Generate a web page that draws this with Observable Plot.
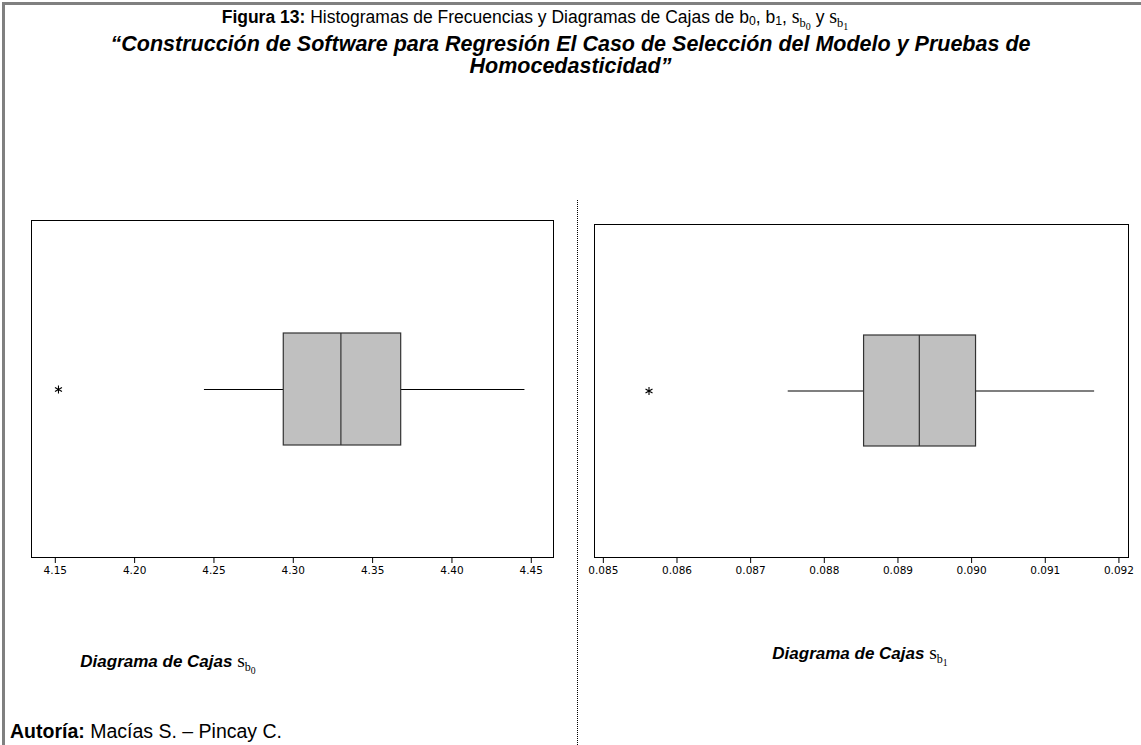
<!DOCTYPE html>
<html>
<head>
<meta charset="utf-8">
<script src="https://cdn.jsdelivr.net/npm/d3@7"></script>
<script src="https://cdn.jsdelivr.net/npm/@observablehq/plot@0.6"></script>
<style>
  body { margin: 0; background: #fff; }
  #fig { position: relative; width: 1141px; height: 745px; overflow: hidden; background: #fff;
         font-family: "Liberation Sans", Arial, sans-serif; color: #000; }
  #border { position: absolute; left: 2px; top: 2px; right: -20px; bottom: -20px;
            border-top: 3px solid #808080; border-left: 3px solid #808080; }
  .title { position: absolute; text-align: center; white-space: nowrap; }
  #t1 { top: 5px; left: 0; width: 1070px; font-size: 17.5px; }
  #t2 { top: 33px; left: 0; width: 1141px; font-size: 21.5px; font-weight: bold; font-style: italic; line-height: 22px; }
  .math { font-family: "Liberation Serif", "Times New Roman", serif; font-style: normal; font-weight: normal; font-size: 1.15em; }
  .math sub { font-size: 0.62em; vertical-align: -0.35em; }
  .math sub sub { font-size: 0.8em; vertical-align: -0.3em; }
  .lsub { font-size: 0.7em; vertical-align: -0.2em; }
  #sep { position: absolute; left: 577px; top: 200px; height: 545px; border-left: 1px dotted #000; }
  .cap { position: absolute; font-weight: bold; font-style: italic; font-size: 17px; white-space: nowrap; transform: translateX(-50%); }
  #author { position: absolute; left: 10px; top: 720px; font-size: 19.5px; white-space: nowrap; }
  .panel { position: absolute; }
</style>
</head>
<body>
<div id="fig">
  <div id="border"></div>
  <div class="title" id="t1"><b>Figura 13:</b> Histogramas de Frecuencias y Diagramas de Cajas de b<span class="lsub">0</span>, b<span class="lsub">1</span>, <span class="math">s<sub>b<sub>0</sub></sub></span> y <span class="math">s<sub>b<sub>1</sub></sub></span></div>
  <div class="title" id="t2">“Construcción de Software para Regresión El Caso de Selección del Modelo y Pruebas de<br>Homocedasticidad”</div>
  <div id="sep"></div>
  <div class="panel" id="p0" style="left:20px; top:210px;"></div>
  <div class="panel" id="p1" style="left:580px; top:210px;"></div>
  <div class="cap" style="left:168px; top:650px;">Diagrama de Cajas <span class="math">s<sub>b<sub>0</sub></sub></span></div>
  <div class="cap" style="left:860px; top:642px;">Diagrama de Cajas <span class="math">s<sub>b<sub>1</sub></sub></span></div>
  <div id="author"><b>Autoría:</b> Macías S. – Pincay C.</div>
</div>
<script>
// Five-number summaries: lower whisker, Q1, median, Q3, upper whisker
const sb0Summary = [4.244, 4.294, 4.330, 4.368, 4.446];
const sb0Outliers = [4.152];
const sb0Ticks = [4.15, 4.20, 4.25, 4.30, 4.35, 4.40, 4.45];
const sb0Domain = [4.135, 4.464];

const sb1Summary = [0.08751, 0.08854, 0.08929, 0.09006, 0.09167];
const sb1Outliers = [0.08562];
const sb1Ticks = [0.085, 0.086, 0.087, 0.088, 0.089, 0.090, 0.091, 0.092];
const sb1Domain = [0.08488, 0.09213];

function boxPanel(summary, outliers, ticks, domain, fmt, size) {
  const [lo, q1, med, q3, hi] = summary;
  const row = [{g: "s", lo, q1, med, q3, hi}];
  const out = outliers.map((v) => ({g: "s", v}));
  return Plot.plot({
    ...size,
    style: {fontFamily: "'DejaVu Sans', sans-serif", fontSize: "10.5px", color: "#000", background: "transparent"},
    x: {domain, ticks, tickFormat: d3.format(fmt), tickSize: 6, tickPadding: 3, label: null, line: false},
    y: {domain: ["s"], padding: 0.5, axis: null},
    marks: [
      Plot.ruleY(row, {y: "g", x1: "lo", x2: "q1", stroke: "#000", strokeWidth: 1.2}),
      Plot.ruleY(row, {y: "g", x1: "q3", x2: "hi", stroke: "#000", strokeWidth: 1.2}),
      Plot.barX(row, {y: "g", x1: "q1", x2: "q3", fill: "#c0c0c0", stroke: "#333", strokeWidth: 1.2}),
      Plot.tickX(row, {y: "g", x: "med", stroke: "#333", strokeWidth: 1.2}),
      Plot.dot(out, {x: "v", y: "g", symbol: "asterisk", r: 3.8, stroke: "#000", strokeWidth: 1.1}),
      Plot.frame({stroke: "#000", strokeWidth: 1})
    ]
  });
}

document.getElementById("p0").append(
  boxPanel(sb0Summary, sb0Outliers, sb0Ticks, sb0Domain, ".2f",
    {width: 545, height: 380, marginLeft: 11, marginRight: 12, marginTop: 10, marginBottom: 33})
);
document.getElementById("p1").append(
  boxPanel(sb1Summary, sb1Outliers, sb1Ticks, sb1Domain, ".3f",
    {width: 560, height: 380, marginLeft: 14, marginRight: 12, marginTop: 14, marginBottom: 33})
);
</script>
</body>
</html>
